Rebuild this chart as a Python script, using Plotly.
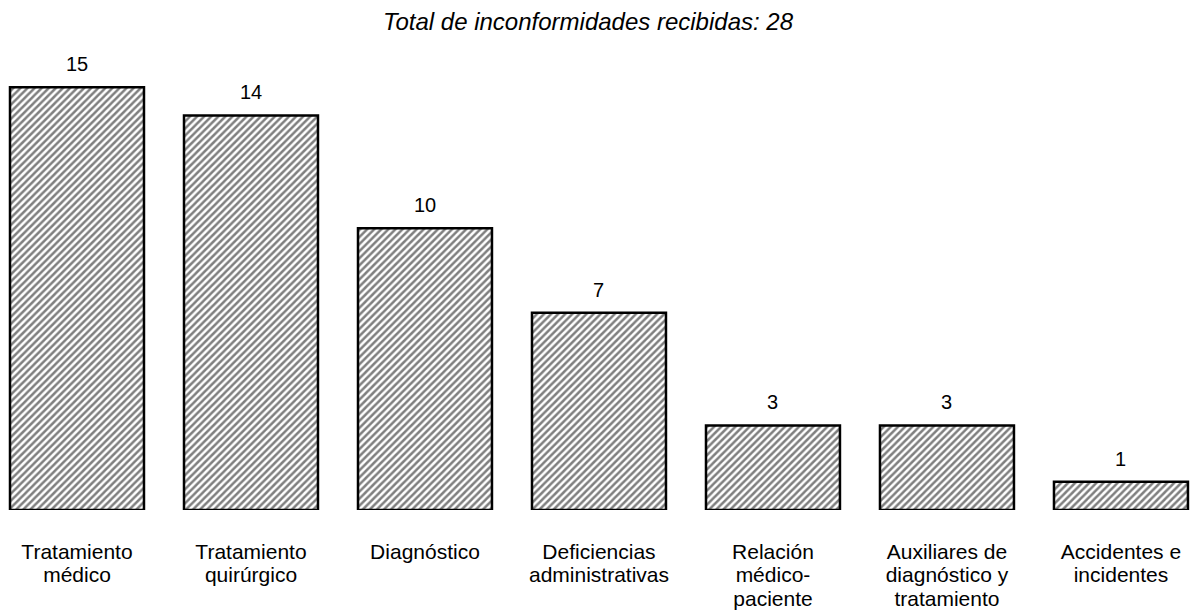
import plotly.graph_objects as go

categories = [
    "Tratamiento<br>médico",
    "Tratamiento<br>quirúrgico",
    "Diagnóstico",
    "Deficiencias<br>administrativas",
    "Relación<br>médico-<br>paciente",
    "Auxiliares de<br>diagnóstico y<br>tratamiento",
    "Accidentes e<br>incidentes",
]
values = [15, 14, 10, 7, 3, 3, 1]
title_text = "Total de inconformidades recibidas: 28"

FONT = "Liberation Sans, Arial, sans-serif"

W, H = 1193, 613


def tick_label(c):
    return "<br>".join(
        "<span style='font-size:21px'>%s</span>" % part for part in c.split("<br>")
    )


fig = go.Figure()
fig.add_trace(go.Bar(
    x=categories,
    y=values,
    marker=dict(
        color="white",
        line=dict(color="black", width=2.5),
        pattern=dict(shape="/", fgcolor="black", bgcolor="white", size=5, solidity=0.5),
    ),
    hoverinfo="skip",
))

for c, v in zip(categories, values):
    fig.add_annotation(
        x=c, y=v, text=str(v), showarrow=False,
        yanchor="bottom", yshift=10,
        font=dict(family=FONT, size=20, color="black"),
    )

fig.update_layout(
    width=W, height=H,
    margin=dict(l=0, r=0, t=59, b=103, autoexpand=False),
    paper_bgcolor="white", plot_bgcolor="white",
    bargap=0.23,
    showlegend=False,
    title=dict(
        text=title_text,
        x=588 / W, xref="paper", xanchor="center",
        y=1 - 22 / H, yref="container", yanchor="middle",
        font=dict(family=FONT, size=24, color="black", style="italic"),
    ),
    xaxis=dict(
        type="category",
        range=[-0.4425, 6.414],
        tickvals=categories,
        ticktext=[tick_label(c) for c in categories],
        showgrid=False, zeroline=False, showline=False,
        ticks="", ticklabelstandoff=30, automargin=False,
        tickfont=dict(family=FONT, size=18, color="black"),
    ),
    yaxis=dict(
        range=[0, 16], visible=False, showgrid=False, zeroline=False,
    ),
)

fig.write_html(
    "out.html",
    config={"displayModeBar": False, "staticPlot": True},
    post_script="document.body.style.margin='0';document.body.style.overflow='hidden';",
)
